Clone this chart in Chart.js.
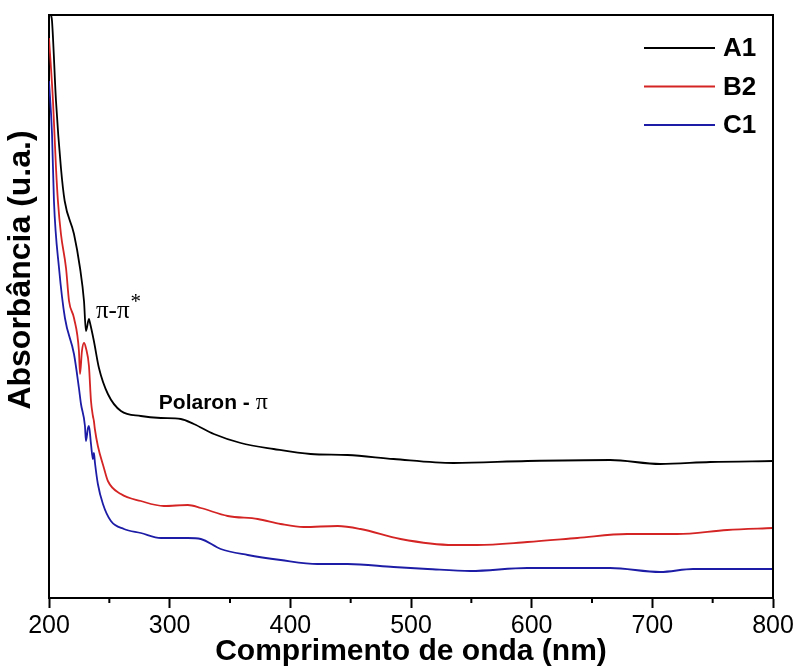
<!DOCTYPE html>
<html>
<head>
<meta charset="utf-8">
<script src="https://cdn.jsdelivr.net/npm/chart.js@4.4.1/dist/chart.umd.min.js"></script>
<style>
  html, body { margin: 0; padding: 0; background: #fff; }
  #wrap { width: 797px; height: 668px; }
</style>
</head>
<body>
<div id="wrap"><canvas id="uvChart"></canvas></div>
<script>
// wavelength (nm) and absorbance (arb. units)
const a1Nm  = [200, 201.7, 202.5, 205.8, 209.9, 213, 220.7, 225.7, 229, 230.6, 233.1, 234, 237.2, 241.4, 248.8, 259.6, 276.1, 292.7, 309.2, 320, 336.6, 358.9, 386.2, 416.8, 447.4, 485.5, 535.2, 596.4, 665.1, 706.5, 747.9, 800];
const a1Abs = [600, 583, 577, 497, 430, 397, 364, 330, 297, 267, 279, 275, 257, 230, 204, 187, 182, 180, 179, 174, 164, 155, 149, 144, 143, 139, 135, 137, 138, 134, 136, 137];

const b2Nm  = [200, 203.3, 205.8, 207.4, 209.9, 214.1, 216.6, 220.7, 224.8, 225.7, 227.3, 229, 230.6, 233.1, 234.8, 236.4, 237.2, 238, 240.5, 245.5, 248.8, 259.6, 276.1, 295.2, 315, 325.8, 348.1, 373, 392, 411, 439.2, 458.2, 491.3, 535.2, 555, 596.4, 637.8, 679.2, 720.6, 762, 800];
const b2Abs = [560, 497, 430, 397, 364, 330, 297, 280, 247, 224, 247, 255, 250, 232, 197, 182, 177, 169, 152, 130, 117, 104, 97, 92, 93, 90, 82, 79, 74, 71, 72, 69, 59, 53, 53, 56, 60, 64, 64, 68, 70];

const c1Nm  = [200, 202.5, 204.1, 208.3, 213.2, 220.7, 224.8, 226.5, 229.8, 230.6, 232.3, 233.1, 234.8, 236.4, 237.2, 238.1, 240.5, 244.7, 251.3, 262.1, 276.1, 292.7, 315, 325.8, 342.3, 364.7, 392, 422.6, 447.4, 485.5, 513.7, 549.2, 596.4, 665.1, 706.5, 733.8, 800];
const c1Abs = [517, 464, 397, 330, 280, 244, 210, 194, 172, 157, 170, 172, 154, 139, 145, 135, 114, 94, 77, 69, 65, 60, 60, 59, 49, 43, 38, 34, 34, 31, 29, 27, 30, 30, 26, 29, 29];

const seriesNames = ['A1', 'B2', 'C1'];
const seriesColors = ['#000000', '#d42424', '#1c1ca6'];
const xTicks = [200, 300, 400, 500, 600, 700, 800];

const FONT = '"Liberation Sans", Arial, sans-serif';
const SERIF = '"Liberation Serif", "Times New Roman", serif';

function pts(xs, ys) {
    return xs.map((x, i) => ({ x: x, y: ys[i] }));
}

// frame, minor ticks, legend, y title and the two labels
const extras = {
    id: 'extras',
    afterDraw(chart) {
        const c = chart.ctx;
        const a = chart.chartArea;
        const xs = chart.scales.x;
        const ys = chart.scales.y;
        c.save();

        c.strokeStyle = '#000';
        c.lineWidth = 2;
        c.beginPath();
        c.moveTo(a.left, a.top);
        c.lineTo(a.right, a.top);
        c.lineTo(a.right, a.bottom);
        c.stroke();

        // minor ticks every 50 nm
        xs.ticks.forEach(t => {
            if (t.value % 100 !== 0) {
                const px = xs.getPixelForValue(t.value);
                c.beginPath();
                c.moveTo(px, a.bottom);
                c.lineTo(px, a.bottom + 5);
                c.stroke();
            }
        });

        // legend
        c.font = 'bold 26px ' + FONT;
        c.textBaseline = 'middle';
        c.textAlign = 'left';
        chart.data.datasets.forEach((ds, i) => {
            const y = a.top + 33 + i * 38.5;
            c.strokeStyle = ds.borderColor;
            c.lineWidth = 1.8;
            c.beginPath();
            c.moveTo(a.right - 129, y);
            c.lineTo(a.right - 58, y);
            c.stroke();
            c.fillStyle = '#000';
            c.fillText(ds.label, a.right - 50, y + 1);
        });

        // y axis title
        c.save();
        c.translate(21, 270);
        c.rotate(-Math.PI / 2);
        c.textAlign = 'center';
        c.textBaseline = 'middle';
        c.font = 'bold 32px ' + FONT;
        c.fillText('Absorbância (u.a.)', 0, 0);
        c.restore();

        // band labels
        c.fillStyle = '#000';
        c.textBaseline = 'alphabetic';
        c.textAlign = 'left';
        let px = xs.getPixelForValue(238.9);
        let py = ys.getPixelForValue(280);
        c.font = '25px ' + SERIF;
        c.fillText('π-π', px, py);
        const w = c.measureText('π-π').width;
        c.font = '21px ' + SERIF;
        c.fillText('*', px + w + 1, py - 10);

        px = xs.getPixelForValue(291);
        py = ys.getPixelForValue(189);
        c.font = 'bold 21px ' + FONT;
        c.fillText('Polaron - ', px, py);
        const w2 = c.measureText('Polaron - ').width;
        c.font = '24px ' + SERIF;
        c.fillText('π', px + w2, py);

        c.restore();
    }
};

const ctx = document.getElementById('uvChart');

new Chart(ctx, {
    type: 'line',
    data: {
        datasets: [
            { label: seriesNames[0], data: pts(a1Nm, a1Abs), borderColor: seriesColors[0] },
            { label: seriesNames[1], data: pts(b2Nm, b2Abs), borderColor: seriesColors[1] },
            { label: seriesNames[2], data: pts(c1Nm, c1Abs), borderColor: seriesColors[2] }
        ]
    },
    options: {
        responsive: true,
        maintainAspectRatio: false,
        animation: false,
        layout: { padding: { top: 15, right: 24, left: 0, bottom: 0 } },
        elements: {
            point: { radius: 0 },
            line: { borderWidth: 1.8, cubicInterpolationMode: 'monotone' }
        },
        plugins: {
            legend: { display: false },
            tooltip: { enabled: false }
        },
        scales: {
            x: {
                type: 'linear',
                min: 200,
                max: 800,
                afterFit(s) { s.height = 70; },
                border: { display: true, color: '#000', width: 2 },
                grid: {
                    drawOnChartArea: false,
                    drawTicks: true,
                    tickLength: 10,
                    tickWidth: 2,
                    tickColor: (c) => (c.tick && c.tick.value % 100 === 0) ? '#000' : 'rgba(0,0,0,0)'
                },
                ticks: {
                    stepSize: 50,
                    color: '#000',
                    padding: 3,
                    maxRotation: 0,
                    autoSkip: false,
                    font: { family: FONT, size: 25 },
                    callback: (v) => xTicks.includes(v) ? String(v) : ''
                },
                title: {
                    display: true,
                    text: 'Comprimento de onda (nm)',
                    color: '#000',
                    padding: { top: 0, bottom: -2 },
                    font: { family: FONT, size: 30, weight: 'bold' }
                }
            },
            y: {
                type: 'linear',
                min: 0,
                max: 583,
                afterFit(s) { s.width = 49; },
                border: { display: true, color: '#000', width: 2 },
                grid: { display: false },
                ticks: { display: false }
            }
        }
    },
    plugins: [extras]
});
</script>
</body>
</html>
